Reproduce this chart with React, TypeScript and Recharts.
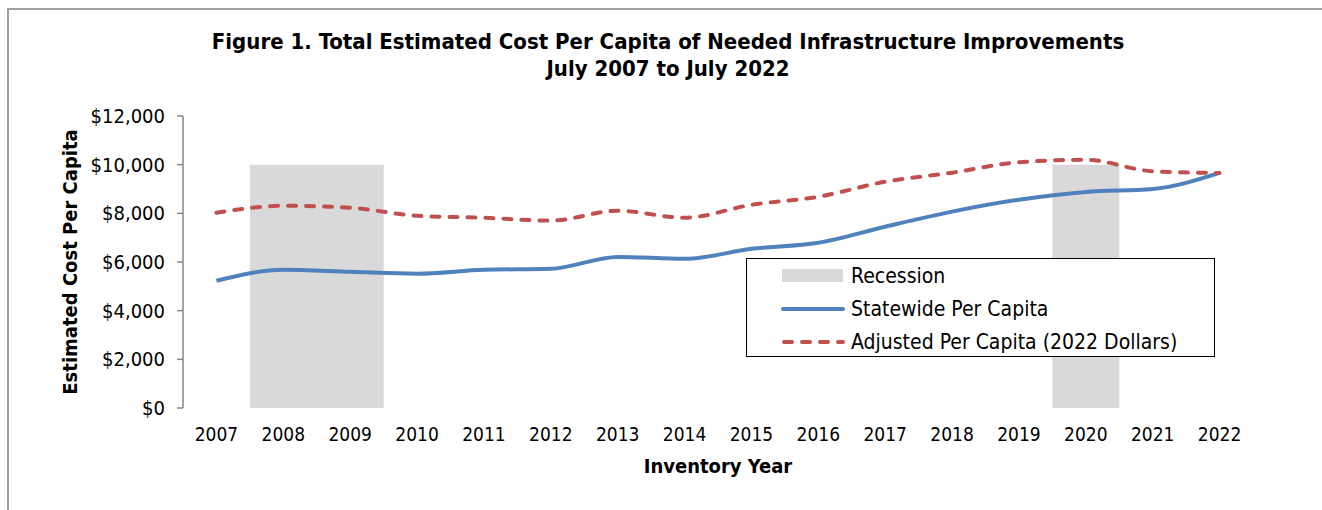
import React from 'react';
import {
  ComposedChart,
  Bar,
  Line,
  XAxis,
  YAxis,
  Legend,
} from 'recharts';

const years = [
  '2007', '2008', '2009', '2010', '2011', '2012', '2013', '2014',
  '2015', '2016', '2017', '2018', '2019', '2020', '2021', '2022',
];
const statewide = [
  5230, 5680, 5600, 5520, 5680, 5720, 6210, 6130,
  6540, 6790, 7450, 8070, 8560, 8880, 9000, 9660,
];
const adjusted = [
  8025, 8310, 8230, 7900, 7820, 7700, 8110, 7820,
  8350, 8680, 9300, 9670, 10100, 10200, 9730, 9660,
];
const recession = [
  0, 10000, 10000, 0, 0, 0, 0, 0,
  0, 0, 0, 0, 0, 10000, 0, 0,
];
const yTicks = [0, 2000, 4000, 6000, 8000, 10000, 12000];
const boundaryTicks = years.map((_, i) => i).concat(years.length);

const data = years.map((year, i) => ({
  year,
  statewide: statewide[i],
  adjusted: adjusted[i],
  recession: recession[i] || null,
}));

const FONT = "'DejaVu Sans Condensed', 'DejaVu Sans', sans-serif";
const AXIS = '#868686';
const BLUE = '#4f81bd';
const RED = '#c0504d';
const GREY = '#d9d9d9';

const LegendBox: React.FC = () => {
  const rows = [
    { label: 'Recession', kind: 'rect' },
    { label: 'Statewide Per Capita', kind: 'solid' },
    { label: 'Adjusted Per Capita (2022 Dollars)', kind: 'dash' },
  ];
  return (
    <div
      style={{
        width: 469,
        height: 99,
        border: '1.5px solid #000',
        background: '#fff',
        boxSizing: 'border-box',
        padding: '0 0 0 34px',
        fontFamily: FONT,
        fontSize: 21,
        color: '#000',
        textAlign: 'left',
      }}
    >
      {rows.map((r) => (
        <div key={r.label} style={{ display: 'flex', alignItems: 'center', height: 33 }}>
          <svg width={66} height={16} style={{ marginRight: 4 }}>
            {r.kind === 'rect' && <rect x={1} y={1} width={61} height={13} fill={GREY} />}
            {r.kind === 'solid' && (
              <line x1={2} y1={8} x2={62} y2={8} stroke={BLUE} strokeWidth={4} strokeLinecap="round" />
            )}
            {r.kind === 'dash' && (
              <line x1={3} y1={8} x2={62} y2={8} stroke={RED} strokeWidth={4} strokeLinecap="round" strokeDasharray="8 10" />
            )}
          </svg>
          <span>{r.label}</span>
        </div>
      ))}
    </div>
  );
};

export default function App() {
  return (
    <div
      style={{
        position: 'absolute',
        left: 0,
        top: 0,
        width: 1322,
        height: 510,
        background: '#fff',
        overflow: 'hidden',
      }}
    >
      <div
        style={{
          position: 'absolute',
          left: 7,
          top: 8,
          width: 1330,
          height: 520,
          borderTop: '2px solid #a0a0a0',
          borderLeft: '2px solid #a0a0a0',
        }}
      />
      <div
        style={{
          position: 'absolute',
          left: 0,
          top: 28,
          width: 1336,
          textAlign: 'center',
          fontFamily: FONT,
          fontWeight: 'bold',
          fontSize: 22,
          lineHeight: '27px',
          color: '#000',
        }}
      >
        Figure 1. Total Estimated Cost Per Capita of Needed Infrastructure Improvements
        <br />
        July 2007 to July 2022
      </div>
      <div
        style={{
          position: 'absolute',
          left: 70,
          top: 262,
          transform: 'translate(-50%, -50%) rotate(-90deg)',
          whiteSpace: 'nowrap',
          fontFamily: FONT,
          fontWeight: 'bold',
          fontSize: 20,
          color: '#000',
        }}
      >
        Estimated Cost Per Capita
      </div>
      <div
        style={{
          position: 'absolute',
          left: 718,
          top: 466,
          transform: 'translate(-50%, -50%)',
          whiteSpace: 'nowrap',
          fontFamily: FONT,
          fontWeight: 'bold',
          fontSize: 20,
          color: '#000',
        }}
      >
        Inventory Year
      </div>
      <ComposedChart
        width={1322}
        height={510}
        data={data}
        margin={{ top: 116, right: 69, bottom: 62, left: 0 }}
        barCategoryGap={0}
        style={{ position: 'absolute', left: 0, top: 0 }}
      >
        <XAxis
          xAxisId="edge"
          type="number"
          domain={[0, years.length]}
          ticks={boundaryTicks}
          tick={false}
          tickSize={6}
          height={0}
          stroke={AXIS}
          strokeWidth={1.5}
          allowDataOverflow
        />
        <XAxis
          xAxisId="main"
          dataKey="year"
          axisLine={false}
          tickLine={false}
          height={40}
          tickMargin={14}
          interval={0}
          tick={{ fill: '#000', fontSize: 19, fontFamily: FONT }}
        />
        <YAxis
          domain={[0, 12000]}
          ticks={yTicks}
          width={183}
          tickSize={6}
          tickMargin={12}
          stroke={AXIS}
          strokeWidth={1.5}
          tickFormatter={(v: number) => `$${v.toLocaleString('en-US')}`}
          tick={{ fill: '#000', fontSize: 20, fontFamily: FONT }}
        />
        <Legend
          layout="vertical"
          align="center"
          verticalAlign="middle"
          content={<LegendBox />}
          wrapperStyle={{ position: 'absolute', left: 746, top: 258, width: 469, height: 99 }}
        />
        <Bar
          xAxisId="main"
          dataKey="recession"
          name="Recession"
          fill={GREY}
          isAnimationActive={false}
        />
        <Line
          xAxisId="main"
          type="monotone"
          dataKey="statewide"
          name="Statewide Per Capita"
          stroke={BLUE}
          strokeWidth={4}
          dot={false}
          activeDot={false}
          isAnimationActive={false}
        />
        <Line
          xAxisId="main"
          type="monotone"
          dataKey="adjusted"
          name="Adjusted Per Capita (2022 Dollars)"
          stroke={RED}
          strokeWidth={4}
          strokeDasharray="8 10"
          strokeLinecap="round"
          dot={false}
          activeDot={false}
          isAnimationActive={false}
        />
      </ComposedChart>
    </div>
  );
}
